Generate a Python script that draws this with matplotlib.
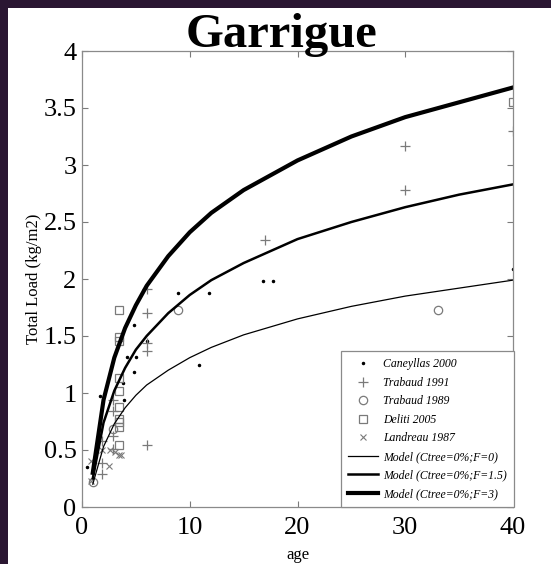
import matplotlib as mpl
import matplotlib.pyplot as plt
from matplotlib.patches import Rectangle

# fonte serif parecida com Times
mpl.rcParams['font.family'] = 'Liberation Serif'
mpl.rcParams['font.size'] = 19

### dados medidos (idade em anos, carga em kg/m2)
caneyllas_age = [0.5, 1.7, 3.8, 3.9, 4.2, 4.8, 4.8, 5.0, 6.0, 8.9, 10.9, 11.8, 16.8, 17.7, 40]
caneyllas_load = [0.35, 0.97, 1.09, 0.94, 1.32, 1.18, 1.60, 1.32, 1.46, 1.88, 1.25, 1.88, 1.98, 1.98, 2.09]

trabaud91_age = [1.9, 1.9, 1.9, 2.9, 2.9, 2.9, 2.9, 6, 6, 6, 6, 6, 17, 30, 30, 40]
trabaud91_load = [0.58, 0.39, 0.29, 0.94, 0.84, 0.62, 0.51, 1.91, 1.70, 1.44, 1.37, 0.54, 2.34, 2.78, 3.17, 3.30]

trabaud89_age = [1.0, 2.9, 8.9, 33]
trabaud89_load = [0.22, 0.68, 1.73, 1.73]

deliti_age = [3.4, 3.4, 3.4, 3.4, 3.4, 3.4, 3.4, 3.4, 3.4, 3.4, 40]
deliti_load = [1.73, 1.49, 1.46, 1.13, 1.02, 0.88, 0.77, 0.75, 0.70, 0.54, 3.55]

landreau_age = [0.8, 0.8, 1.9, 2.6, 2.5, 3.1, 3.4, 3.6]
landreau_load = [0.40, 0.23, 0.50, 0.50, 0.36, 0.48, 0.46, 0.46]

### modelo
model_age = [1, 2, 3, 4, 5, 6, 8, 10, 12, 15, 20, 25, 30, 35, 40]
model_f0 = [0.20, 0.53, 0.73, 0.87, 0.98, 1.07, 1.20, 1.31, 1.40, 1.51, 1.65, 1.76, 1.85, 1.92, 1.99]
model_f15 = [0.25, 0.74, 1.02, 1.22, 1.38, 1.50, 1.70, 1.86, 1.99, 2.14, 2.35, 2.50, 2.63, 2.74, 2.83]
model_f3 = [0.30, 0.94, 1.31, 1.57, 1.77, 1.94, 2.20, 2.41, 2.58, 2.78, 3.04, 3.25, 3.42, 3.55, 3.68]

W, H = 551, 564
fig = plt.figure(figsize=(W / 100, H / 100), dpi=100)
fig.patch.set_facecolor('white')
# borda escura (slide) em cima e à esquerda
escuro = '#2a1632'
fig.patches.append(Rectangle((0, 0), 8 / W, 1, transform=fig.transFigure,
                             facecolor=escuro, edgecolor='none', zorder=-5))
fig.patches.append(Rectangle((0, 1 - 8 / H), 1, 8 / H, transform=fig.transFigure,
                             facecolor=escuro, edgecolor='none', zorder=-5))

ax = fig.add_axes([82 / W, 1 - 507 / H, (513 - 82) / W, (507 - 51) / H])

cinza = '#7a7a7a'
ax.plot(caneyllas_age, caneyllas_load, '.', color='black', ms=3, label='Caneyllas 2000')
ax.plot(trabaud91_age, trabaud91_load, '+', color=cinza, ms=7.5, mew=0.9, label='Trabaud 1991')
ax.plot(trabaud89_age, trabaud89_load, 'o', mfc='none', mec=cinza, ms=6, mew=0.9, label='Trabaud 1989')
ax.plot(deliti_age, deliti_load, 's', mfc='none', mec=cinza, ms=5.5, mew=0.9, label='Deliti 2005')
ax.plot(landreau_age, landreau_load, 'x', color=cinza, ms=5, mew=0.8, label='Landreau 1987')
ax.plot(model_age, model_f0, color='black', lw=0.9, label='Model (Ctree=0%;F=0)')
ax.plot(model_age, model_f15, color='black', lw=1.8, label='Model (Ctree=0%;F=1.5)')
ax.plot(model_age, model_f3, color='black', lw=3.0, label='Model (Ctree=0%;F=3)')

ax.set_xlim(0, 40)
ax.set_ylim(0, 4)
ax.set_xticks([0, 10, 20, 30, 40])
ax.set_yticks([0, 0.5, 1, 1.5, 2, 2.5, 3, 3.5, 4])
ax.set_yticklabels(['0', '0.5', '1', '1.5', '2', '2.5', '3', '3.5', '4'])
ax.tick_params(direction='in', top=True, right=True, length=4, color=cinza, pad=4)
ax.tick_params(axis='x', pad=7)
for s in ax.spines.values():
    s.set_color('#8a8a8a')
    s.set_linewidth(0.9)

ax.set_xlabel('age', fontsize=12, labelpad=6)
ax.set_ylabel('Total Load (kg/m2)', fontsize=12, labelpad=1)

fig.text(282 / W, 1 - 47 / H, 'Garrigue', fontsize=35, fontweight='bold',
         ha='center', va='baseline')

leg = ax.legend(loc='lower right', bbox_to_anchor=(514 / W, 1 - 507 / H),
                bbox_transform=fig.transFigure, borderaxespad=0,
                prop={'style': 'italic', 'size': 8.5}, labelspacing=0.55,
                handlelength=2.6, handletextpad=0.4, borderpad=0.6,
                fancybox=False, framealpha=1)
leg.get_frame().set_edgecolor('#8a8a8a')
leg.get_frame().set_linewidth(0.9)

plt.savefig('out.png', dpi=100)
plt.close()
